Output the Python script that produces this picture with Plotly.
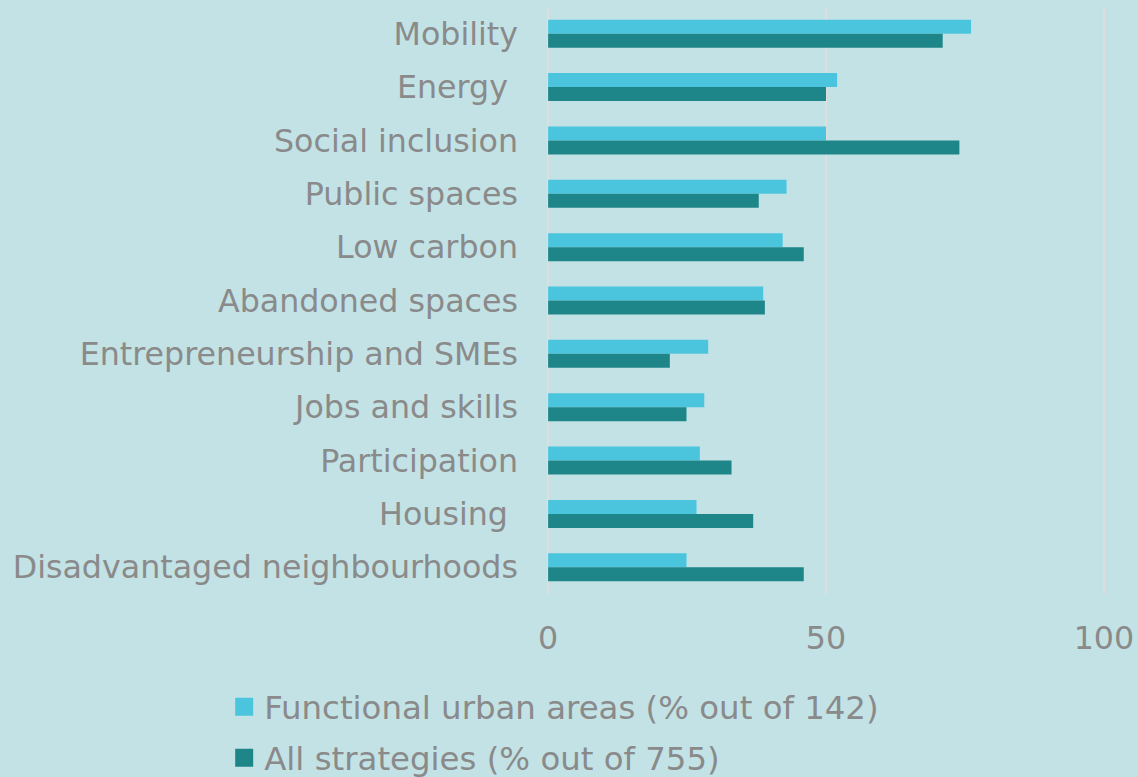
import plotly.graph_objects as go

categories = ["Mobility", "Energy\u00a0", "Social inclusion", "Public spaces", "Low carbon",
              "Abandoned spaces", "Entrepreneurship and SMEs", "Jobs and skills",
              "Participation", "Housing\u00a0", "Disadvantaged neighbourhoods"]
fua_values = [76.1, 52.0, 50.0, 42.9, 42.2, 38.7, 28.8, 28.1, 27.3, 26.7, 24.9]
all_values = [71.0, 50.0, 74.0, 37.9, 46.0, 39.0, 21.9, 24.9, 33.0, 36.9, 46.0]
series_names = ["Functional urban areas (% out of 142)", "All strategies (% out of 755)"]
x_ticks = [0, 50, 100]

LIGHT = "#4bc5dd"
DARK = "#1e8588"
BG = "#c2e2e6"
TXT = "#8a8a8a"
FONT = "DejaVu Sans"

fig = go.Figure()
fig.add_trace(go.Bar(y=categories, x=fua_values, orientation="h", name=series_names[0],
                     marker=dict(color=LIGHT, line=dict(width=0)), showlegend=False))
fig.add_trace(go.Bar(y=categories, x=all_values, orientation="h", name=series_names[1],
                     marker=dict(color=DARK, line=dict(width=0)), showlegend=False))
# legend-only entries (larger square swatches)
for i, (nm, col) in enumerate(zip(series_names, [LIGHT, DARK])):
    fig.add_trace(go.Scatter(x=[None], y=[None], mode="markers", name=nm,
                             legendgroup="g%d" % i,
                             marker=dict(symbol="square", size=16, color=col,
                                         line=dict(width=2, color=col))))

fig.update_layout(
    width=1138, height=777,
    paper_bgcolor=BG, plot_bgcolor=BG,
    margin=dict(l=547, r=33, t=7, b=183, autoexpand=False),
    barmode="group", bargap=0.475, bargroupgap=0,
    font=dict(family=FONT, color=TXT, size=31.7),
    showlegend=True,
    legend=dict(orientation="v", xref="container", yref="container",
                x=0.197, y=0.126, xanchor="left", yanchor="top",
                bgcolor="rgba(0,0,0,0)", font=dict(size=32.4, color=TXT),
                traceorder="grouped", tracegroupgap=6, itemsizing="trace"),
    xaxis=dict(range=[-0.2, 100.2], tickvals=x_ticks, showgrid=True, gridcolor="#dedede",
               gridwidth=2, zeroline=False, showline=False, ticks="", automargin=False,
               tickfont=dict(size=31.7, color=TXT), ticklabelstandoff=22),
    yaxis=dict(autorange="reversed", showgrid=False, zeroline=False, showline=False,
               ticks="", automargin=False, tickfont=dict(size=31.7, color=TXT),
               ticklabelstandoff=28),
)

fig.write_html("out.html", config={"displayModeBar": False},
               post_script="document.body.style.margin='0';")
